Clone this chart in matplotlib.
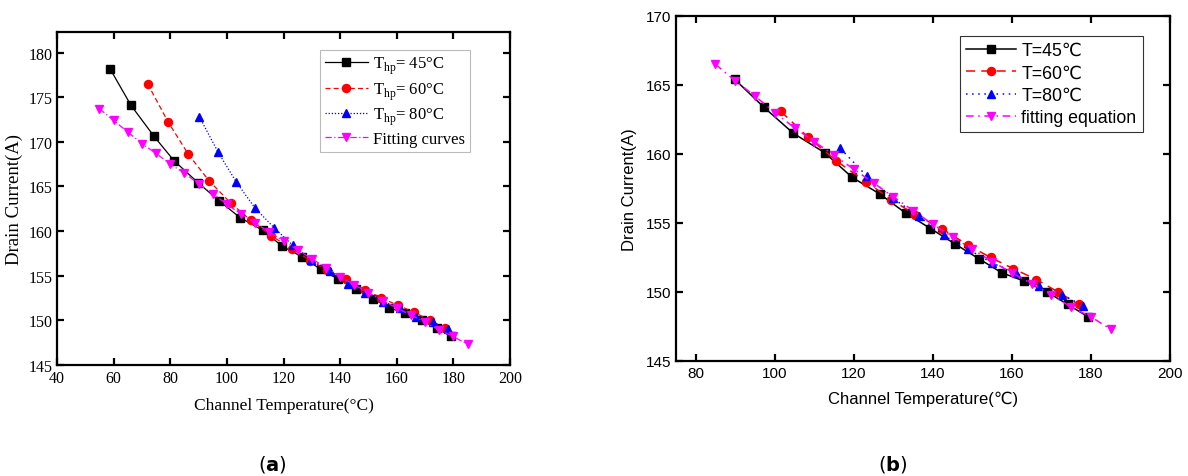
import matplotlib
matplotlib.use("Agg")
import matplotlib.pyplot as plt

# channel temperature (C) / drain current (A)
t45 = [58.7, 66.1, 74.3, 81.3, 89.9, 97.2, 104.7, 112.6, 119.6, 126.6, 133.2,
       139.4, 145.5, 151.7, 157.4, 163.0, 168.9, 174.1, 179.3]
i45 = [178.2, 174.1, 170.6, 167.9, 165.4, 163.4, 161.5, 160.1, 158.3, 157.1, 155.7,
       154.6, 153.5, 152.4, 151.4, 150.8, 150.0, 149.1, 148.2]

t60 = [72.0, 79.3, 86.4, 93.8, 101.5, 108.5, 115.6, 123.0, 129.5, 135.5, 142.2,
       148.9, 154.6, 160.3, 166.2, 171.7, 176.9]
i60 = [176.5, 172.2, 168.6, 165.6, 163.1, 161.2, 159.5, 158.0, 156.7, 155.6, 154.6,
       153.4, 152.5, 151.7, 150.9, 150.0, 149.1]

t80 = [90.3, 96.8, 103.3, 109.9, 116.6, 123.3, 129.8, 136.4, 142.7, 148.9, 155.0,
       161.0, 166.8, 172.7, 178.1]
i80 = [172.8, 168.9, 165.5, 162.6, 160.4, 158.4, 156.8, 155.5, 154.1, 153.1, 152.1,
       151.4, 150.4, 149.8, 149.0]

tfit = [55, 60, 65, 70, 75, 80, 85, 90, 95, 100, 105, 110, 115, 120, 125, 130,
        135, 140, 145, 150, 155, 160, 165, 170, 175, 180, 185]
ifit = [173.7, 172.4, 171.1, 169.8, 168.7, 167.5, 166.5, 165.3, 164.2, 163.0, 161.9,
        160.9, 159.9, 158.9, 157.9, 156.9, 155.9, 154.9, 154.0, 153.1, 152.2, 151.4,
        150.6, 149.8, 148.9, 148.2, 147.3]

# panel (b) only shows the part of each series that sits on the fit
start_b = [4, 4, 4, 6]

labels_a = [r"T$_{\mathrm{hp}}$= 45°C", r"T$_{\mathrm{hp}}$= 60°C",
            r"T$_{\mathrm{hp}}$= 80°C", "Fitting curves"]
labels_b = ["T=45℃", "T=60℃", "T=80℃", "fitting equation"]

plt.rcParams["mathtext.fontset"] = "custom"
plt.rcParams["mathtext.rm"] = "Liberation Serif"

series = [(t45, i45), (t60, i60), (t80, i80), (tfit, ifit)]
colors = ["black", "red", "blue", "magenta"]
markers = ["s", "o", "^", "v"]
styles_a = ["-", (0, (4, 2.5)), (0, (1, 1.5)), (0, (5, 2, 1, 2))]
styles_b = ["-", (0, (6, 4)), (0, (1, 3)), (0, (5, 3, 1, 3))]

fig = plt.figure(figsize=(11.88, 4.77), dpi=100)
ax1 = fig.add_axes([0.048, 0.2327, 0.3813, 0.698])
ax2 = fig.add_axes([0.569, 0.2411, 0.4158, 0.7233])

serif = ["Liberation Serif", "DejaVu Serif"]
sans = ["Liberation Sans", "DejaVu Sans"]

for k, (x, y) in enumerate(series):
    ax1.plot(x, y, color=colors[k], linestyle=styles_a[k], linewidth=0.9,
             marker=markers[k], markersize=5.8, label=labels_a[k])
    s = start_b[k]
    ax2.plot(x[s:], y[s:], color=colors[k], linestyle=styles_b[k], linewidth=1.1,
             marker=markers[k], markersize=5.8, label=labels_b[k])

ax1.set_xlim(40, 200)
ax1.set_ylim(145, 182.3)
ax1.set_xticks(range(40, 201, 20))
ax1.set_yticks(range(145, 181, 5))
ax2.set_xlim(75, 200)
ax2.set_ylim(145, 170)
ax2.set_xticks(range(80, 201, 20))
ax2.set_yticks(range(145, 171, 5))

for ax, fam, fs in [(ax1, serif, 11.5), (ax2, sans, 11)]:
    for sp in ax.spines.values():
        sp.set_linewidth(1.6)
    ax.tick_params(direction="in", top=True, right=True, length=5, width=1.6,
                   labelsize=fs)
    for lab in ax.get_xticklabels() + ax.get_yticklabels():
        lab.set_family(fam)

ax1.set_xlabel("Channel Temperature(°C)", family=serif, fontsize=12.5, labelpad=8)
ax1.set_ylabel("Drain Current(A)", family=serif, fontsize=13.5, labelpad=4)
ax2.set_xlabel("Channel Temperature(℃)", family=sans, fontsize=12, labelpad=8)
ax2.set_ylabel("Drain Current(A)", family=sans, fontsize=12, labelpad=6)

leg1 = ax1.legend(loc="upper right", bbox_to_anchor=(0.912, 0.946), borderaxespad=0,
                  prop={"family": serif, "size": 12},
                  handlelength=2.6, handletextpad=0.3, borderpad=0.3, labelspacing=0.25,
                  fancybox=False, framealpha=1)
leg1.get_frame().set_edgecolor("#bbbbbb")
leg1.get_frame().set_linewidth(0.8)
leg2 = ax2.legend(loc="upper right", bbox_to_anchor=(0.945, 0.942), borderaxespad=0,
                  prop={"family": sans, "size": 12.8},
                  handlelength=2.8, handletextpad=0.3, borderpad=0.35, labelspacing=0.3,
                  fancybox=False, framealpha=1)
leg2.get_frame().set_edgecolor("#333333")
leg2.get_frame().set_linewidth(0.8)

fig.text(272 / 1188, 1 - 465 / 477, r"($\mathbf{a}$)", ha="center", va="center", fontsize=14)
fig.text(893 / 1188, 1 - 465 / 477, r"($\mathbf{b}$)", ha="center", va="center", fontsize=14)

fig.savefig("out.png", dpi=100)
